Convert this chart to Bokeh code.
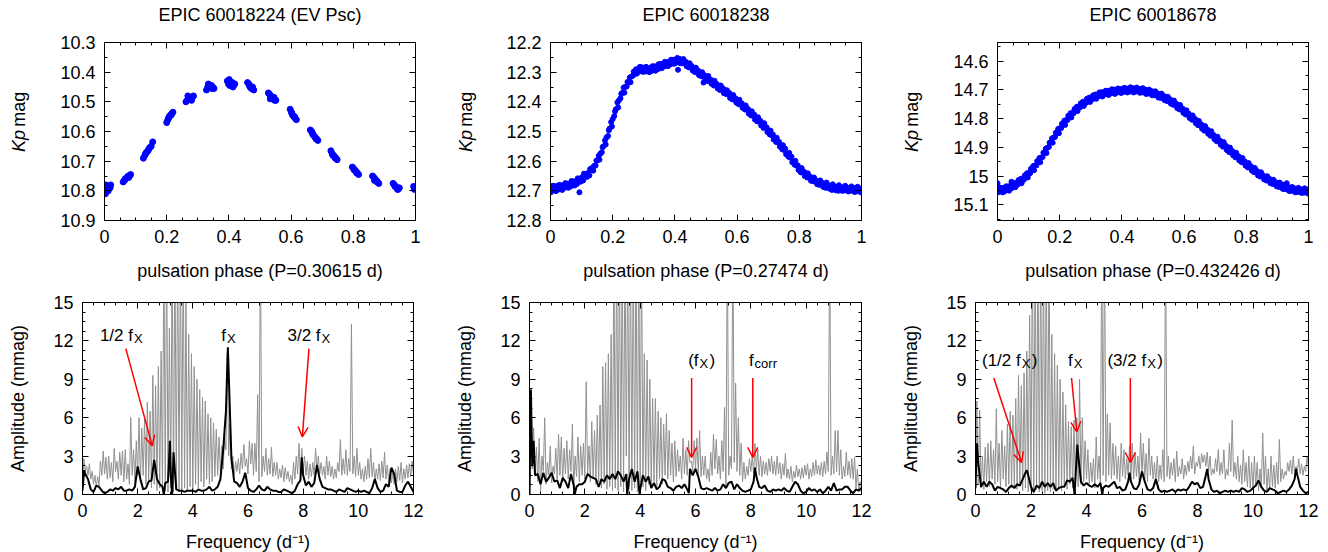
import math
from bokeh.plotting import figure
from bokeh.models import (Range1d, LinearAxis, Label, Arrow, OpenHead, FixedTicker,
                          CustomJSTickFormatter, CustomLabelingPolicy)
from bokeh.layouts import row, column
from bokeh.embed import file_html
from bokeh.resources import INLINE

FONT = "Liberation Sans"
FS = "18px"
AFS = "17px"
SUB = "13px"

# ---------------- data: light curves ----------------
titles = ["EPIC 60018224 (EV Psc)", "EPIC 60018238", "EPIC 60018678"]
phase_labels = ["pulsation phase (P=0.30615 d)", "pulsation phase (P=0.27474 d)",
                "pulsation phase (P=0.432426 d)"]

phase1 = [0.000, 0.004, 0.008, 0.012, 0.016, 0.020, 0.003, 0.010, 0.018,
          0.060, 0.064, 0.068, 0.072, 0.076, 0.080, 0.084, 0.066, 0.078,
          0.125, 0.130, 0.135, 0.140, 0.145, 0.150, 0.155, 0.132, 0.142,
          0.200, 0.204, 0.208, 0.212, 0.216, 0.220, 0.206, 0.214,
          0.262, 0.266, 0.270, 0.274, 0.278, 0.282, 0.286, 0.268, 0.280,
          0.328, 0.332, 0.336, 0.340, 0.344, 0.348, 0.352, 0.334, 0.346,
          0.395, 0.399, 0.403, 0.407, 0.411, 0.415, 0.419, 0.401, 0.413,
          0.460, 0.464, 0.468, 0.472, 0.476, 0.480, 0.466, 0.474,
          0.527, 0.531, 0.535, 0.539, 0.543, 0.547, 0.551, 0.533, 0.545,
          0.597, 0.601, 0.605, 0.609, 0.613, 0.617, 0.603, 0.611,
          0.662, 0.666, 0.670, 0.674, 0.678, 0.682, 0.686, 0.668, 0.680,
          0.728, 0.732, 0.736, 0.740, 0.744, 0.748, 0.734, 0.742,
          0.797, 0.801, 0.805, 0.809, 0.813, 0.817, 0.803, 0.811,
          0.862, 0.866, 0.870, 0.874, 0.878, 0.882, 0.868, 0.876,
          0.928, 0.932, 0.936, 0.940, 0.944, 0.948, 0.934, 0.942,
          0.994, 0.998, 0.996]
mag1 = [10.80, 10.78, 10.79, 10.80, 10.79, 10.78, 10.81, 10.80, 10.79,
        10.77, 10.765, 10.76, 10.755, 10.75, 10.75, 10.745, 10.76, 10.755,
        10.69, 10.68, 10.67, 10.665, 10.655, 10.65, 10.635, 10.675, 10.66,
        10.57, 10.56, 10.55, 10.545, 10.54, 10.535, 10.555, 10.545,
        10.50, 10.495, 10.49, 10.485, 10.49, 10.485, 10.48, 10.48, 10.495,
        10.46, 10.45, 10.445, 10.45, 10.445, 10.45, 10.455, 10.44, 10.455,
        10.43, 10.44, 10.445, 10.44, 10.435, 10.445, 10.44, 10.425, 10.45,
        10.435, 10.44, 10.45, 10.455, 10.45, 10.46, 10.445, 10.455,
        10.47, 10.475, 10.48, 10.485, 10.49, 10.495, 10.495, 10.49, 10.485,
        10.525, 10.535, 10.545, 10.55, 10.555, 10.56, 10.54, 10.55,
        10.595, 10.60, 10.61, 10.615, 10.62, 10.625, 10.63, 10.605, 10.625,
        10.665, 10.675, 10.68, 10.685, 10.69, 10.695, 10.68, 10.69,
        10.72, 10.725, 10.73, 10.735, 10.74, 10.745, 10.73, 10.74,
        10.75, 10.755, 10.76, 10.765, 10.77, 10.775, 10.765, 10.77,
        10.775, 10.78, 10.785, 10.79, 10.795, 10.79, 10.785, 10.795,
        10.785, 10.79, 10.795]

# star 2 : samples at phase 0.00..1.00 (a), 0.005..0.995 (b), 0.0075..0.9975 (c)
mag2_a = [12.690, 12.695, 12.688, 12.690, 12.685, 12.682, 12.678, 12.675, 12.670, 12.665,
          12.655, 12.648, 12.640, 12.630, 12.616, 12.598, 12.575, 12.550, 12.520, 12.490,
          12.458, 12.425, 12.395, 12.370, 12.350, 12.335, 12.315, 12.300, 12.293, 12.290,
          12.291, 12.292, 12.290, 12.288, 12.285, 12.280, 12.276, 12.273, 12.270, 12.265,
          12.262, 12.260, 12.262, 12.268, 12.275, 12.283, 12.290, 12.298, 12.305, 12.312,
          12.318, 12.326, 12.334, 12.342, 12.350, 12.358, 12.366, 12.374, 12.382, 12.390,
          12.398, 12.407, 12.416, 12.426, 12.436, 12.446, 12.456, 12.466, 12.476, 12.487,
          12.500, 12.512, 12.524, 12.536, 12.549, 12.562, 12.575, 12.588, 12.602, 12.615,
          12.627, 12.637, 12.646, 12.654, 12.661, 12.667, 12.672, 12.676, 12.680, 12.683,
          12.686, 12.688, 12.690, 12.691, 12.692, 12.693, 12.694, 12.695, 12.695, 12.696,
          12.697]
mag2_b = [12.700, 12.684, 12.696, 12.681, 12.690, 12.676, 12.685, 12.668, 12.677, 12.660,
          12.665, 12.644, 12.648, 12.622, 12.615, 12.582, 12.570, 12.530, 12.515, 12.468,
          12.448, 12.402, 12.388, 12.352, 12.348, 12.318, 12.312, 12.290, 12.298, 12.284,
          12.298, 12.286, 12.296, 12.280, 12.290, 12.272, 12.281, 12.266, 12.274, 12.258,
          12.268, 12.255, 12.270, 12.265, 12.284, 12.280, 12.300, 12.295, 12.314, 12.310,
          12.330, 12.325, 12.345, 12.340, 12.360, 12.355, 12.374, 12.370, 12.392, 12.388,
          12.408, 12.405, 12.426, 12.424, 12.446, 12.443, 12.466, 12.464, 12.488, 12.486,
          12.510, 12.510, 12.535, 12.535, 12.560, 12.558, 12.585, 12.585, 12.612, 12.614,
          12.638, 12.635, 12.655, 12.652, 12.668, 12.665, 12.680, 12.674, 12.690, 12.682,
          12.697, 12.686, 12.700, 12.688, 12.699, 12.689, 12.700, 12.690, 12.702, 12.692]
mag2_c = [12.683, 12.701, 12.680, 12.697, 12.674, 12.690, 12.667, 12.682, 12.658, 12.669,
          12.642, 12.653, 12.626, 12.632, 12.598, 12.595, 12.553, 12.544, 12.496, 12.483,
          12.432, 12.419, 12.373, 12.369, 12.333, 12.334, 12.298, 12.305, 12.282, 12.299,
          12.282, 12.300, 12.280, 12.295, 12.273, 12.287, 12.265, 12.280, 12.258, 12.272,
          12.252, 12.270, 12.256, 12.280, 12.270, 12.295, 12.285, 12.310, 12.300, 12.324,
          12.313, 12.339, 12.329, 12.355, 12.345, 12.371, 12.361, 12.387, 12.377, 12.403,
          12.393, 12.420, 12.412, 12.440, 12.432, 12.460, 12.452, 12.480, 12.472, 12.502,
          12.497, 12.527, 12.521, 12.551, 12.546, 12.577, 12.572, 12.604, 12.599, 12.630,
          12.623, 12.650, 12.641, 12.666, 12.655, 12.678, 12.665, 12.687, 12.672, 12.693,
          12.678, 12.698, 12.681, 12.700, 12.683, 12.702, 12.685, 12.704, 12.686, 12.705]
out2_phase = [0.093, 0.410, 0.492, 0.001]
out2_mag = [12.705, 12.292, 12.335, 12.705]

mag3_a = [15.048, 15.050, 15.046, 15.044, 15.040, 15.033, 15.027, 15.020, 15.012, 15.002,
          14.990, 14.978, 14.964, 14.950, 14.936, 14.920, 14.902, 14.884, 14.866, 14.850,
          14.834, 14.820, 14.806, 14.793, 14.781, 14.770, 14.760, 14.751, 14.743, 14.736,
          14.730, 14.725, 14.720, 14.716, 14.713, 14.710, 14.708, 14.706, 14.704, 14.703,
          14.702, 14.701, 14.700, 14.700, 14.700, 14.701, 14.702, 14.704, 14.706, 14.709,
          14.712, 14.716, 14.720, 14.725, 14.730, 14.736, 14.743, 14.750, 14.758, 14.767,
          14.776, 14.785, 14.794, 14.803, 14.812, 14.822, 14.831, 14.840, 14.849, 14.858,
          14.868, 14.877, 14.887, 14.896, 14.906, 14.915, 14.924, 14.933, 14.942, 14.951,
          14.960, 14.968, 14.977, 14.985, 14.993, 15.000, 15.007, 15.013, 15.019, 15.025,
          15.030, 15.034, 15.038, 15.042, 15.045, 15.048, 15.049, 15.050, 15.051, 15.052,
          15.052]
mag3_b = [15.056, 15.042, 15.052, 15.036, 15.043, 15.024, 15.030, 15.010, 15.013, 14.990,
          14.990, 14.965, 14.963, 14.937, 14.934, 14.905, 14.899, 14.869, 14.864, 14.836,
          14.833, 14.807, 14.805, 14.781, 14.781, 14.759, 14.761, 14.741, 14.745, 14.727,
          14.733, 14.716, 14.723, 14.708, 14.716, 14.703, 14.712, 14.699, 14.709, 14.697,
          14.707, 14.695, 14.706, 14.694, 14.706, 14.696, 14.709, 14.699, 14.713, 14.704,
          14.719, 14.712, 14.728, 14.721, 14.739, 14.733, 14.752, 14.748, 14.768, 14.765,
          14.786, 14.783, 14.804, 14.801, 14.823, 14.820, 14.842, 14.838, 14.860, 14.857,
          14.879, 14.876, 14.898, 14.895, 14.917, 14.913, 14.935, 14.931, 14.952, 14.949,
          14.970, 14.966, 14.987, 14.983, 15.002, 14.998, 15.016, 15.010, 15.028, 15.022,
          15.038, 15.030, 15.046, 15.038, 15.052, 15.043, 15.056, 15.046, 15.058, 15.047]
mag3_c = [15.040, 15.057, 15.036, 15.051, 15.028, 15.039, 15.014, 15.025, 14.998, 15.005,
          14.975, 14.980, 14.948, 14.952, 14.919, 14.920, 14.884, 14.884, 14.849, 14.851,
          14.818, 14.822, 14.790, 14.796, 14.767, 14.774, 14.747, 14.756, 14.731, 14.742,
          14.719, 14.731, 14.709, 14.723, 14.703, 14.718, 14.698, 14.714, 14.695, 14.711,
          14.693, 14.709, 14.691, 14.709, 14.692, 14.710, 14.694, 14.714, 14.699, 14.719,
          14.705, 14.727, 14.713, 14.736, 14.724, 14.748, 14.737, 14.763, 14.753, 14.780,
          14.771, 14.798, 14.789, 14.816, 14.808, 14.835, 14.826, 14.853, 14.844, 14.872,
          14.863, 14.891, 14.882, 14.910, 14.901, 14.928, 14.919, 14.946, 14.937, 14.964,
          14.955, 14.981, 14.972, 14.998, 14.987, 15.012, 15.001, 15.025, 15.013, 15.036,
          15.023, 15.045, 15.031, 15.052, 15.038, 15.057, 15.041, 15.059, 15.043, 15.061]
out3_phase = [0.000, 0.045, 0.930]
out3_mag = [15.025, 15.020, 15.025]

# ---------------- data: amplitude spectra ----------------
# grey (original) spectra: troughs at 0.0, 0.1, ... 12.0 ; peaks at 0.05, 0.15, ... 11.95
grey1_trough = [0.5, 1.8, 1.5, 1.2, 0.8, 0.6, 0.7, 1.5, 1.6, 1.2,
                1.3, 1.0, 1.8, 1.2, 1.5, 1.0, 1.2, 0.8, 1.5, 1.0,
                1.5, 1.0, 1.5, 0.8, 1.0, 0.5, 0.8, 0.3, 0.5, 0.2,
                0.3, 0.2, 0.5, 0.2, 0.4, 0.2, 0.3, 0.5, 0.3, 0.6,
                0.4, 0.8, 0.5, 1.0, 0.6, 1.2, 0.8, 1.0, 1.4, 1.5,
                1.8, 2.0, 3.5, 3.0, 2.0, 1.5, 1.8, 1.6, 2.0, 2.2,
                1.6, 2.4, 1.5, 1.8, 1.0, 1.4, 1.8, 1.5, 1.6, 1.4,
                1.5, 1.2, 1.3, 1.0, 1.2, 1.0, 0.8, 1.2, 1.6, 1.4,
                1.8, 1.5, 1.2, 1.4, 1.5, 1.8, 1.6, 1.5, 1.2, 1.5,
                1.4, 1.2, 1.3, 1.8, 1.5, 1.6, 1.5, 1.8, 1.6, 1.4,
                1.5, 1.2, 1.0, 1.2, 1.3, 1.4, 1.0, 1.2, 1.1, 1.3,
                1.2, 1.0, 0.9, 0.8, 1.0, 1.1, 0.9, 1.2, 1.3, 1.4,
                1.5]
grey1_peak = [2.8, 2.2, 2.4, 1.8, 1.5, 1.4, 2.6, 3.4, 2.9, 3.0,
              2.5, 3.6, 2.6, 3.3, 3.4, 3.5, 2.4, 6.0, 3.5, 4.2,
              6.0, 5.2, 6.0, 7.2, 6.5, 9.3, 8.5, 10.0, 11.2, 20,
              20, 13.0, 20, 20, 20, 20, 20, 15.5, 12.5, 11.0,
              10.0, 9.0, 8.2, 7.6, 7.3, 6.3, 6.0, 5.6, 5.1, 4.5,
              3.8, 4.5, 11.0, 5.5, 3.0, 2.6, 2.8, 3.2, 3.9, 2.8,
              4.2, 4.0, 4.0, 7.8, 20, 3.0, 3.6, 2.8, 3.7, 2.5,
              2.5, 2.0, 2.3, 2.1, 1.8, 1.5, 2.5, 3.0, 4.0, 3.6,
              3.0, 2.6, 2.4, 2.5, 3.6, 3.0, 2.5, 2.2, 3.0, 2.6,
              2.2, 2.0, 2.5, 4.3, 2.8, 3.5, 2.8, 13.3, 3.0, 3.6,
              2.5, 2.0, 2.2, 2.8, 3.6, 2.5, 2.0, 2.4, 2.6, 3.3,
              2.3, 2.0, 1.8, 2.0, 2.2, 2.5, 2.0, 2.3, 2.4, 2.6]

grey2_trough = [0.0, 2.0, 1.5, 1.0, 0.3, 1.8, 0.8, 1.5, 0.9, 1.6,
                1.2, 1.5, 1.0, 1.6, 1.2, 1.8, 0.5, 1.4, 1.0, 1.5,
                1.2, 1.5, 1.0, 1.2, 0.8, 1.0, 0.5, 0.8, 0.4, 0.6,
                0.3, 0.5, 0.3, 0.6, 0.2, 3.0, 0.4, 0.3, 0.5, 0.2,
                0.4, 0.6, 0.3, 0.8, 0.5, 1.0, 0.6, 1.2, 0.8, 1.5,
                1.2, 1.5, 1.0, 1.4, 1.8, 1.2, 1.6, 1.5, 2.5, 1.8,
                2.0, 1.6, 1.4, 1.5, 1.2, 1.0, 1.5, 2.0, 1.6, 1.2,
                1.8, 0.5, 1.5, 2.0, 2.5, 1.8, 1.5, 1.0, 1.2, 1.5,
                1.8, 1.6, 2.0, 1.5, 1.4, 1.6, 1.5, 1.8, 1.6, 1.5,
                1.6, 1.2, 1.5, 1.3, 1.2, 1.0, 1.3, 1.4, 1.2, 1.3,
                1.5, 1.2, 1.4, 1.5, 1.6, 1.5, 1.4, 1.6, 1.8, 1.5,
                1.6, 1.8, 1.5, 1.2, 1.4, 1.5, 1.3, 1.2, 0.5, 0.3,
                0.5]
grey2_peak = [8.0, 5.2, 3.7, 4.4, 3.0, 6.0, 2.5, 3.8, 2.2, 3.6,
              4.7, 4.5, 3.6, 4.2, 3.5, 5.5, 3.0, 4.5, 3.8, 4.0,
              8.8, 3.8, 5.7, 5.0, 6.2, 7.0, 10.0, 10.3, 11.0, 12.5,
              20, 20, 20, 20, 20, 20, 20, 20, 20, 20,
              20, 11.0, 10.5, 9.0, 7.5, 7.5, 6.5, 6.0, 5.5, 6.3,
              5.0, 4.0, 4.2, 3.5, 3.0, 4.4, 3.5, 4.2, 2.6, 4.2,
              4.4, 5.0, 3.0, 3.0, 2.0, 3.3, 4.7, 4.3, 3.0, 4.2,
              6.8, 20, 3.0, 20, 8.7, 6.0, 4.0, 2.5, 2.2, 2.8,
              3.0, 4.0, 3.5, 3.0, 2.6, 2.5, 2.8, 3.0, 2.6, 3.0,
              2.5, 2.4, 3.2, 2.0, 2.2, 1.8, 2.3, 2.0, 2.1, 2.3,
              2.4, 2.0, 2.5, 2.7, 2.3, 2.5, 2.6, 3.3, 20, 3.0,
              5.0, 5.0, 3.5, 2.2, 3.3, 2.6, 2.8, 2.9, 2.0, 1.0]

grey3_trough = [0.3, 0.8, 0.5, 0.4, 1.0, 0.6, 1.2, 0.8, 1.0, 0.5,
                1.2, 0.6, 0.8, 0.5, 0.6, 0.4, 0.8, 0.3, 0.5, 0.2,
                0.3, 0.1, 0.4, 0.2, 0.3, 0.1, 0.3, 0.2, 0.4, 0.3,
                0.5, 0.3, 0.6, 0.4, 0.8, 0.5, 0.3, 0.6, 0.8, 1.0,
                1.2, 0.8, 1.0, 0.5, 1.2, 0.8, 1.5, 1.0, 1.5, 1.2,
                1.5, 1.2, 1.0, 1.4, 1.2, 1.5, 1.0, 1.2, 1.4, 1.0,
                1.6, 1.2, 1.0, 1.5, 1.2, 0.8, 1.0, 1.2, 1.0, 1.4,
                1.2, 1.5, 1.0, 1.4, 1.6, 1.2, 1.5, 1.8, 2.0, 1.6,
                2.2, 2.0, 2.5, 2.2, 1.8, 1.5, 1.6, 1.8, 1.5, 1.6,
                1.2, 1.5, 1.8, 1.4, 1.2, 1.0, 0.8, 1.0, 0.6, 0.5,
                0.4, 0.6, 0.3, 0.5, 0.8, 0.3, 0.4, 0.6, 0.5, 0.8,
                1.0, 1.2, 1.5, 1.8, 1.6, 1.5, 1.8, 1.6, 1.5, 1.8,
                2.0]
grey3_peak = [7.3, 6.6, 3.0, 3.7, 4.0, 4.2, 3.5, 6.7, 4.0, 5.0,
              3.8, 5.5, 6.5, 6.2, 7.5, 9.3, 8.5, 9.5, 11.2, 14.0,
              20, 20, 20, 20, 20, 20, 20, 12.5, 11.0, 10.1,
              9.0, 8.0, 7.0, 5.7, 5.3, 5.8, 6.0, 9.0, 6.0, 4.2,
              3.5, 2.5, 2.8, 4.5, 3.0, 20, 20, 6.3, 5.6, 4.0,
              3.8, 3.0, 4.0, 3.5, 2.8, 3.8, 4.0, 3.3, 3.0, 4.8,
              4.0, 3.2, 4.4, 3.0, 2.5, 3.0, 2.3, 3.5, 20, 3.0,
              2.5, 2.8, 3.4, 2.2, 2.8, 2.3, 2.6, 3.0, 3.8, 2.5,
              3.0, 3.2, 3.1, 3.3, 3.0, 2.0, 2.8, 3.5, 2.5, 3.5,
              2.0, 4.0, 5.8, 2.5, 3.0, 2.3, 3.5, 2.5, 3.0, 2.5,
              3.0, 2.5, 2.0, 4.8, 3.0, 2.0, 3.0, 2.3, 2.5, 4.3,
              2.0, 1.8, 2.5, 2.7, 3.0, 2.2, 2.8, 2.4, 2.2, 3.0]

# black (prewhitened) spectra: values at 0.0, 0.1, ... 12.0 plus narrow features
black1 = [0.3, 1.6, 1.2, 0.4, 0.2, 0.7, 0.6, 0.3, 0.1, 0.2,
          0.4, 0.3, 0.5, 0.4, 0.6, 0.3, 0.3, 0.4, 0.3, 0.6,
          2.2, 1.2, 0.4, 0.5, 1.0, 1.1, 2.7, 1.2, 0.8, 0.6,
          0.9, 1.0, 1.5, 3.3, 0.4, 0.3, 0.3, 0.2, 0.3, 0.3,
          0.3, 0.2, 0.4, 0.3, 0.3, 0.4, 0.6, 0.3, 0.4, 0.6,
          1.2, 3.5, 6.5, 9.5, 2.8, 1.0, 0.9, 0.6, 1.0, 1.7,
          0.5, 0.3, 0.2, 0.4, 0.7, 0.4, 0.3, 0.6, 0.4, 0.3,
          0.3, 0.2, 0.2, 0.4, 0.3, 0.2, 0.1, 0.3, 0.8, 1.1,
          1.5, 0.7, 1.0, 0.6, 0.9, 2.3, 1.2, 0.6, 0.5, 0.4,
          0.4, 0.3, 0.2, 0.4, 0.3, 0.2, 0.5, 0.4, 0.3, 0.2,
          0.3, 0.2, 0.3, 0.2, 0.1, 0.5, 1.2, 0.5, 0.2, 0.3,
          0.8, 0.6, 2.1, 1.6, 0.3, 0.2, 0.2, 0.7, 1.0, 0.6,
          0.2]
black1_extra_f = [0.06, 2.95, 3.17, 3.25, 5.27, 7.95]
black1_extra_a = [1.9, 0.0, 4.2, 0.0, 11.5, 2.9]

black2 = [0.0, 2.2, 1.5, 1.6, 0.8, 1.7, 1.0, 1.3, 1.7, 1.0,
          1.1, 0.5, 1.3, 1.0, 0.5, 1.6, 0.7, 0.6, 0.8, 0.8,
          1.0, 1.6, 1.4, 1.3, 1.2, 0.6, 1.2, 1.0, 1.5, 1.2,
          1.6, 1.2, 1.8, 1.5, 1.0, 1.6, 1.2, 2.0, 1.0, 1.8,
          0.4, 1.5, 1.0, 1.4, 0.5, 0.9, 0.4, 0.6, 1.2, 1.1,
          0.6, 0.5, 0.3, 0.6, 0.7, 0.5, 0.8, 0.4, 2.0, 1.5,
          2.0, 1.4, 0.5, 0.4, 0.5, 0.4, 0.3, 0.5, 0.3, 0.4,
          0.8, 0.5, 0.9, 1.0, 0.4, 0.8, 0.5, 0.3, 0.2, 0.3,
          0.4, 1.0, 1.4, 0.6, 0.5, 0.7, 0.3, 0.2, 0.4, 0.3,
          0.4, 0.3, 0.5, 0.3, 0.2, 0.6, 1.0, 0.8, 0.3, 0.1,
          0.2, 0.5, 0.3, 0.4, 0.2, 0.4, 0.1, 0.3, 0.6, 0.3,
          0.9, 0.3, 0.4, 0.4, 0.6, 0.6, 0.3, 0.1, 0.4, 0.3,
          0.5]
black2_extra_f = [0.05, 0.15, 1.63, 3.53, 3.98, 5.76, 8.15]
black2_extra_a = [8.2, 4.2, 0.0, 0.0, 0.0, 0.1, 2.1]

black3 = [0.5, 2.5, 0.6, 1.0, 0.6, 1.0, 0.8, 0.3, 0.6, 0.5,
          0.4, 0.2, 0.5, 0.7, 0.5, 0.8, 0.7, 1.2, 1.7, 1.5,
          0.6, 0.2, 0.7, 0.5, 1.0, 0.6, 0.9, 0.6, 0.9, 0.3,
          0.5, 0.6, 0.6, 1.1, 1.0, 1.3, 1.2, 3.2, 1.0, 0.7,
          0.9, 0.7, 0.6, 0.8, 0.6, 0.9, 0.5, 0.7, 0.6, 0.8,
          1.0, 0.5, 0.6, 0.3, 0.4, 1.0, 1.0, 0.5, 0.4, 0.8,
          1.8, 1.0, 0.4, 0.3, 0.5, 1.2, 0.4, 0.2, 0.3, 0.2,
          0.3, 0.4, 0.2, 0.4, 0.3, 0.4, 0.3, 0.6, 1.0, 0.8,
          0.9, 0.5, 0.6, 1.5, 1.2, 0.4, 0.2, 0.3, 0.1, 0.2,
          0.3, 0.2, 0.3, 0.2, 0.3, 0.2, 0.5, 0.4, 0.2, 0.3,
          0.5, 0.7, 1.1, 0.6, 0.3, 0.2, 0.5, 0.4, 0.3, 0.1,
          0.2, 0.3, 0.2, 0.4, 0.7, 1.2, 1.5, 0.6, 0.3, 0.1,
          0.2]
black3_extra_f = [0.05, 1.85, 3.57, 3.67, 4.57, 5.55, 8.35, 11.55]
black3_extra_a = [4.0, 1.9, 0.0, 3.9, 0.0, 1.7, 2.0, 2.0]

freq_ticks = [0, 2, 4, 6, 8, 10, 12]
amp_ticks = [0, 3, 6, 9, 12, 15]
phase_ticks = [0, 0.2, 0.4, 0.6, 0.8, 1.0]
mag1_ticks = [10.3, 10.4, 10.5, 10.6, 10.7, 10.8, 10.9]
mag2_ticks = [12.2, 12.3, 12.4, 12.5, 12.6, 12.7, 12.8]
mag3_ticks = [14.6, 14.7, 14.8, 14.9, 15.0, 15.1]


# ---------------- helpers ----------------
def comb(troughs, peaks):
    f, a = [], []
    for i, t in enumerate(troughs):
        f.append(round(0.1 * i, 3)); a.append(t)
        if i < len(peaks):
            f.append(round(0.1 * i + 0.05, 3)); a.append(peaks[i])
    return f, a


def merged(grid, ef, ea):
    pts = [(round(0.1 * i, 3), v) for i, v in enumerate(grid)] + list(zip(ef, ea))
    pts.sort()
    return [p[0] for p in pts], [p[1] for p in pts]


def grid01(n, start=0.0):
    return [round(start + 0.01 * i, 4) for i in range(n)]


def minor_list(lo, hi, step):
    n = int(round((hi - lo) / step))
    return [round(lo + step * i, 4) for i in range(n + 1)]


FMT = CustomJSTickFormatter(code="return String(Math.round(tick*1000)/1000);")
NO_LABELS = CustomLabelingPolicy(code="for (const i of indices) indices.unset(i)")


def style_axis(ax, ticker, labels=True):
    ax.ticker = ticker
    ax.formatter = FMT
    ax.axis_line_color = "black"
    ax.axis_line_width = 1
    ax.major_tick_line_color = "black"
    ax.minor_tick_line_color = "black"
    ax.major_tick_in = 6
    ax.major_tick_out = 0
    ax.minor_tick_in = 3
    ax.minor_tick_out = 0
    ax.major_label_text_font = FONT
    ax.major_label_text_color = "black"
    ax.major_label_text_font_size = FS if labels else "0px"
    ax.major_label_standoff = 9 if labels else 0
    if not labels:
        ax.major_label_policy = NO_LABELS
    ax.axis_label_text_font = FONT
    ax.axis_label_text_font_size = FS
    ax.axis_label_text_font_style = "normal"
    ax.axis_label_text_color = "black"


def make_fig(fw, fh, bl, br, bt, bb, xr, yr, xt, yt, title=None):
    p = figure(frame_width=fw, frame_height=fh, x_range=xr, y_range=yr,
               min_border_left=bl, min_border_right=br,
               min_border_top=bt, min_border_bottom=bb,
               output_backend="svg", toolbar_location=None)
    p.grid.visible = False
    p.outline_line_color = "black"
    p.background_fill_color = "white"
    p.border_fill_color = "white"
    p.title.visible = False
    xb = p.xaxis[0]
    yl = p.yaxis[0]
    style_axis(xb, xt)
    style_axis(yl, yt)
    top = LinearAxis()
    style_axis(top, xt, labels=False)
    if title:
        # panel title carried by the mirrored top axis, centred over the frame
        top.axis_label = title
        top.axis_label_standoff = 18
    p.add_layout(top, "above")
    right = LinearAxis()
    style_axis(right, yt, labels=False)
    p.add_layout(right, "right")
    return p, xb, yl


phase_ticker = FixedTicker(ticks=phase_ticks, minor_ticks=minor_list(0, 1, 0.05))
freq_ticker = FixedTicker(ticks=freq_ticks, minor_ticks=minor_list(0, 12, 0.4))
amp_ticker = FixedTicker(ticks=amp_ticks, minor_ticks=minor_list(0, 15, 0.75))


def label_strip(width, height, xc, yc):
    """Narrow figure carrying the rotated 'Kp mag' y-axis title (x, y in pixels)."""
    s = figure(width=width, height=height, x_range=Range1d(0, width),
               y_range=Range1d(height, 0), min_border=0,
               x_axis_location=None, y_axis_location=None,
               output_backend="svg", toolbar_location=None)
    s.grid.visible = False
    s.outline_line_color = None
    s.title.visible = False
    s.add_layout(Label(x=xc, y=yc, text="Kp", angle=math.pi / 2,
                       text_align="right", text_baseline="middle", text_font=FONT,
                       text_font_size=FS, text_font_style="italic", text_color="black"))
    s.add_layout(Label(x=xc, y=yc - 5, text="mag", angle=math.pi / 2,
                       text_align="left", text_baseline="middle", text_font=FONT,
                       text_font_size=FS, text_color="black"))
    return s


def top_panel(bl, br, yr, yt_list, xs, ys, title, xlabel, msize):
    yt = FixedTicker(ticks=yt_list,
                     minor_ticks=minor_list(yt_list[0] - 0.1, yt_list[-1] + 0.1, 0.05))
    p, xb, yl = make_fig(311, 178, bl, br, 42, 63, Range1d(0, 1), yr, phase_ticker, yt, title)
    xb.axis_label = xlabel
    xb.axis_label_standoff = 15
    for x, y in zip(xs, ys):
        p.scatter(x, y, size=msize, fill_color="#0000ff", line_color="#0000ff")
    return p


def txt(p, x, y, text, align="left", size=AFS, yoff=0, xoff=0):
    p.add_layout(Label(x=x, y=y, text=text, text_align=align, text_baseline="alphabetic",
                       text_font=FONT, text_font_size=size, text_color="black",
                       x_offset=xoff, y_offset=yoff))


def arrow(p, x0, y0, x1, y1):
    p.add_layout(Arrow(end=OpenHead(size=10, line_color="red", line_width=1.5),
                       x_start=x0, y_start=y0, x_end=x1, y_end=y1,
                       line_color="red", line_width=1.5))


def bottom_panel(bl, br, fw, grey, black):
    p, xb, yl = make_fig(fw, 192, bl, br, 19, 58, Range1d(0, 12), Range1d(0, 15),
                         freq_ticker, amp_ticker)
    xb.axis_label = "Frequency (d\u207b\u00b9)"
    xb.axis_label_standoff = 12
    yl.axis_label = "Amplitude (mmag)"
    yl.axis_label_standoff = 22
    p.line(grey[0], grey[1], line_color="#909090", line_width=1)
    p.line(black[0], black[1], line_color="black", line_width=2)
    return p


# ---------------- top row ----------------
s1 = label_strip(50, 283, 18, 139)
p1 = top_panel(54, 28, Range1d(10.9, 10.3), mag1_ticks, [phase1], [mag1],
               titles[0], phase_labels[0], 6)
s2 = label_strip(50, 283, 22, 139)
p2 = top_panel(57, 25, Range1d(12.8, 12.2), mag2_ticks,
               [grid01(101), grid01(100, 0.005), grid01(100, 0.0075), out2_phase],
               [mag2_a, mag2_b, mag2_c, out2_mag], titles[1], phase_labels[1], 5)
s3 = label_strip(50, 283, 25, 139)
p3 = top_panel(61, 20, Range1d(15.155, 14.535), mag3_ticks,
               [grid01(101), grid01(100, 0.005), grid01(100, 0.0075), out3_phase],
               [mag3_a, mag3_b, mag3_c, out3_mag], titles[2], phase_labels[2], 5)

# ---------------- bottom row ----------------
p4 = bottom_panel(82, 30, 331, comb(grey1_trough, grey1_peak),
                  merged(black1, black1_extra_f, black1_extra_a))
txt(p4, 1.83, 12.41, "1/2 f", "right")
txt(p4, 1.83, 12.41, "X", "left", SUB, -3, 1)
txt(p4, 5.20, 12.41, "f", "right")
txt(p4, 5.20, 12.41, "X", "left", SUB, -3, 1)
txt(p4, 8.63, 12.41, "3/2 f", "right")
txt(p4, 8.63, 12.41, "X", "left", SUB, -3, 1)
arrow(p4, 1.57, 11.4, 2.53, 3.8)
arrow(p4, 8.21, 11.4, 7.97, 4.5)

p5 = bottom_panel(86, 25, 332, comb(grey2_trough, grey2_peak),
                  merged(black2, black2_extra_f, black2_extra_a))
txt(p5, 6.11, 10.5, "(f", "right")
txt(p5, 6.11, 10.5, "X", "left", SUB, -3, 1)
txt(p5, 6.11, 10.5, ")", "left", AFS, 0, 11)
txt(p5, 8.10, 10.5, "f", "right")
txt(p5, 8.10, 10.5, "corr", "left", SUB, -3, 1)
arrow(p5, 5.86, 9.1, 5.86, 2.9)
arrow(p5, 8.07, 9.1, 8.07, 2.9)

p6 = bottom_panel(89, 20, 333, comb(grey3_trough, grey3_peak),
                  merged(black3, black3_extra_f, black3_extra_a))
txt(p6, 1.63, 10.5, "(1/2 f", "right")
txt(p6, 1.63, 10.5, "X", "left", SUB, -3, 1)
txt(p6, 1.63, 10.5, ")", "left", AFS, 0, 11)
txt(p6, 3.50, 10.5, "f", "right")
txt(p6, 3.50, 10.5, "X", "left", SUB, -3, 1)
txt(p6, 6.15, 10.5, "(3/2 f", "right")
txt(p6, 6.15, 10.5, "X", "left", SUB, -3, 1)
txt(p6, 6.15, 10.5, ")", "left", AFS, 0, 11)
arrow(p6, 0.66, 9.1, 1.66, 2.5)
arrow(p6, 3.46, 9.1, 3.65, 4.9)
arrow(p6, 5.58, 9.1, 5.58, 2.5)

layout = column(row(s1, p1, s2, p2, s3, p3), row(p4, p5, p6))
open("out.html", "w").write(file_html(layout, INLINE))
